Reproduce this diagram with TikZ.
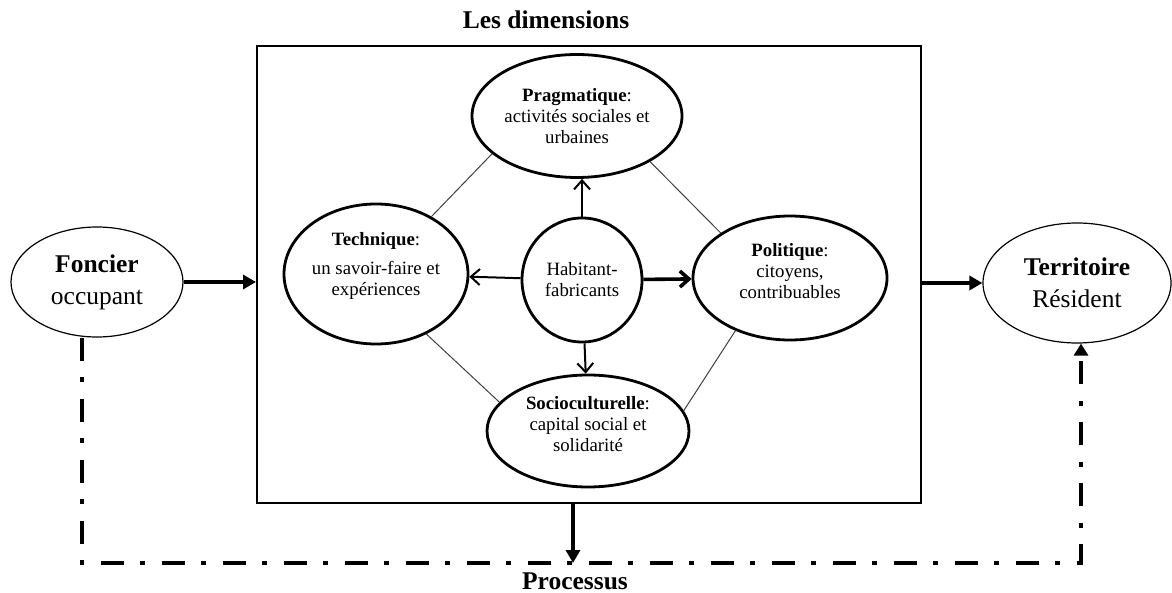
\documentclass[tikz,border=0pt]{standalone}
\usepackage{fontspec}
\setmainfont{Liberation Serif}
\usepackage{tikz}
\usetikzlibrary{shapes.geometric, arrows.meta}
\tikzstyle{Pole}=[ellipse, draw=black, line width=0.6pt, inner sep=0pt, align=center, font=\fontsize{12.75}{16}\selectfont]
\tikzstyle{Dim}=[ellipse, draw=black, line width=1.4pt, inner sep=0pt, align=center, font=\fontsize{9.4}{10.5}\selectfont]
\tikzstyle{Big}=[line width=2pt, -{Triangle[length=6.5pt,width=7pt]}]
\tikzstyle{Small}=[line width=1pt, -{Straight Barb[length=4.5pt,width=8pt]}]
\tikzstyle{Link}=[line width=0.5pt, black!75]
\tikzstyle{Flow}=[line width=2pt, dash pattern=on 11.5pt off 8.25pt on 2.5pt off 8.25pt, -{Triangle[length=6pt,width=7pt]}]
\tikzstyle{Caption}=[font=\bfseries\fontsize{12.75}{15}\selectfont]

\begin{document}
\begin{tikzpicture}[x=0.5pt, y=-0.5pt]
    \useasboundingbox (0,0) rectangle (1172,593);
    \path
    (589,274.5) node[rectangle, draw=black, line width=1pt, minimum width=332pt, minimum height=228.5pt] (box) {}
    (97,282) node[Pole, minimum width=86pt, minimum height=55pt] (fon) {\textbf{Foncier}\\occupant}
    (1077,283) node[Pole, minimum width=94pt, minimum height=60pt] (ter) {\textbf{Territoire}\\Résident}
    (577,116) node[Dim, minimum width=105pt, minimum height=61.5pt] (prag) {\textbf{Pragmatique}:\\activités sociales et\\urbaines}
    (376,274) node[Dim, minimum width=92pt, minimum height=70pt] (tech) {\textbf{Technique}:\\[4pt]un savoir-faire et\\expériences\\\mbox{}}
    (582,280) node[Dim, minimum width=60pt, minimum height=62pt] (hab) {Habitant-\\fabricants}
    (790,278) node[Dim, minimum width=97pt, minimum height=62pt] (pol) {\textbf{Politique}:\\citoyens,\\contribuables\\[-3pt]\mbox{}}
    (588,431) node[Dim, minimum width=101pt, minimum height=56pt] (soc) {\textbf{Socioculturelle}:\\capital social et\\solidarité\\[-3pt]\mbox{}};
    \path (546,19.5) node[Caption] (dims) {Les dimensions}
    (575,581) node[Caption] (procs) {Processus};

    \draw[Link] (tech.46) -- (prag.204);
    \draw[Link] (prag.328) -- (pol.147);
    \draw[Link] (tech.310) -- (soc.162);
    \draw[Link] (pol.224) -- (soc.12);

    \draw[Small] (hab.north) -- (hab.north |- prag.south);
    \draw[Small] (hab) -- (tech);
    \draw[Small, line width=1.8pt] (hab) -- (pol);
    \draw[Small] (hab) -- (soc);

    \draw[Big] (fon) -- (fon -| box.west);
    \draw[Big] (ter -| box.east) -- (ter);
    \coordinate (proc) at (573,563);
    \draw[Big] (proc |- box.south) -- (proc);

    \coordinate (fl) at (82,563);
    \coordinate (fr) at (1081,563);
    \draw[Flow] (fl |- fon.south) -- (fl) -- (fr) -- (fr |- ter.south);
\end{tikzpicture}
\end{document}
